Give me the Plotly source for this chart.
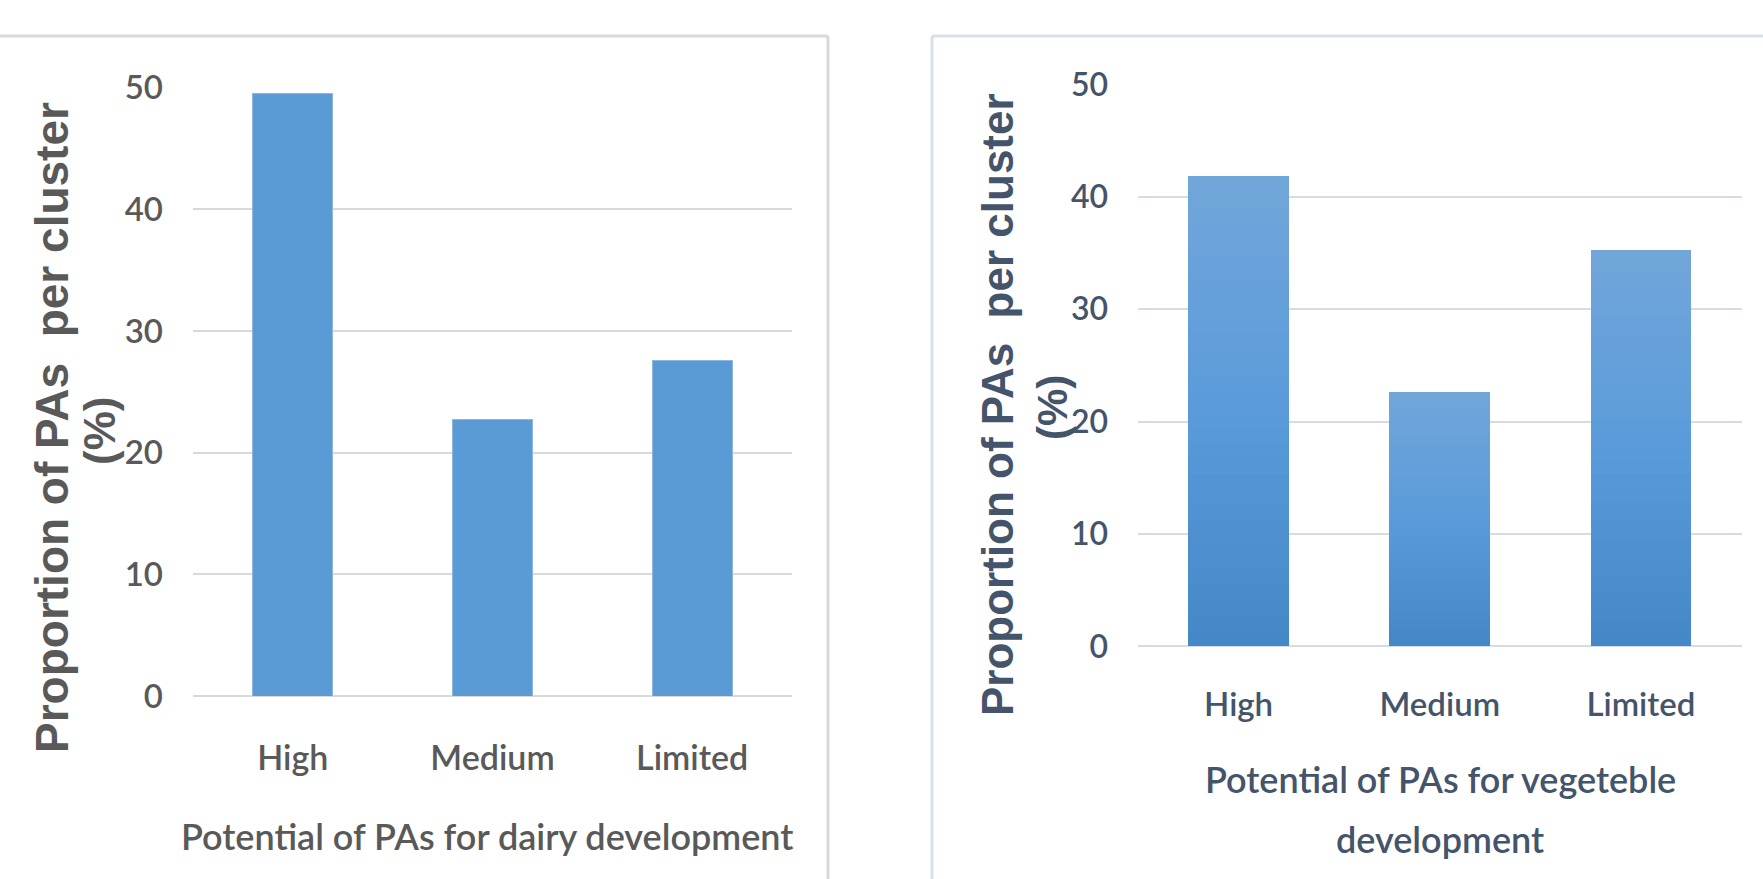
import plotly.graph_objects as go

categories = ["High", "Medium", "Limited"]
dairy_values = [49.5, 22.7, 27.6]
vegetable_values = [41.8, 22.6, 35.3]
y_ticks = [0, 10, 20, 30, 40, 50]

W, H = 1763, 879


def px(x):
    return x / W


def py(y):
    return 1 - y / H


NARROW = "Lato, Roboto, sans-serif"
BOLD = "Liberation Sans, Arial, sans-serif"
GRAY = "#595959"
SLATE = "#44546A"

fig = go.Figure()

# Left chart: solid bars
fig.add_trace(go.Bar(
    x=categories, y=dairy_values, xaxis="x", yaxis="y", width=0.4,
    marker=dict(color="#5B9BD5", line=dict(color="#8DB7E0", width=1)),
    showlegend=False,
))

# Right chart: gradient bars built from stacked slices of each value
N = 30
c_top = (0x72, 0xA6, 0xDA)
c_mid = (0x5A, 0x9B, 0xDA)
c_bot = (0x44, 0x87, 0xC7)


def grad(t):
    if t < 0.5:
        a, b, f = c_bot, c_mid, t / 0.5
    else:
        a, b, f = c_mid, c_top, (t - 0.5) / 0.5
    return "rgb(%d,%d,%d)" % tuple(round(a[i] + (b[i] - a[i]) * f) for i in range(3))


for k in range(N):
    fig.add_trace(go.Bar(
        x=categories, y=[v / N for v in vegetable_values], xaxis="x2", yaxis="y2",
        width=0.5, marker=dict(color=grad((k + 0.5) / N), line=dict(width=0)),
        showlegend=False, hoverinfo="skip" if k < N - 1 else None,
    ))

fig.update_layout(
    template="none",
    width=W, height=H, margin=dict(l=0, r=0, t=0, b=0, autoexpand=False),
    paper_bgcolor="white", plot_bgcolor="white", barmode="stack",
    showlegend=False,
    xaxis=dict(domain=[px(193), px(792)], showgrid=False, showline=False, ticks="",
               automargin=False,
               tickfont=dict(family=NARROW, size=34, color=GRAY, weight=600),
               ticklabelstandoff=39),
    yaxis=dict(domain=[py(696), py(87.7)], range=[0, 50], tickvals=y_ticks,
               showgrid=True, gridcolor="#D9D9D9", gridwidth=1.5,
               zeroline=True, zerolinecolor="#D9D9D9", zerolinewidth=1.5,
               showline=False, ticks="", automargin=False,
               tickfont=dict(family=NARROW, size=33, color=GRAY, weight=600),
               ticklabelstandoff=29),
    xaxis2=dict(domain=[px(1138), px(1741.5)], showgrid=False, showline=False, ticks="",
                automargin=False,
                tickfont=dict(family=NARROW, size=33, color=SLATE, weight=600),
                ticklabelstandoff=36, anchor="y2"),
    yaxis2=dict(domain=[py(646.3), py(84.3)], range=[0, 50], tickvals=y_ticks,
                showgrid=True, gridcolor="#D6DCE5", gridwidth=1.5,
                zeroline=True, zerolinecolor="#D6DCE5", zerolinewidth=1.5,
                showline=False, ticks="", anchor="x2", automargin=False,
                tickfont=dict(family=NARROW, size=32, color=SLATE, weight=600),
                ticklabelstandoff=29),
)

# Chart frames
frame_l = "#D9D9D9"
frame_r = "#D9DFE8"
fig.add_shape(type="line", xref="paper", yref="paper", x0=0, x1=px(828), y0=py(36), y1=py(36),
              line=dict(color=frame_l, width=3))
fig.add_shape(type="line", xref="paper", yref="paper", x0=px(828), x1=px(828), y0=0, y1=py(36),
              line=dict(color=frame_l, width=3))
fig.add_shape(type="line", xref="paper", yref="paper", x0=px(932), x1=1, y0=py(36), y1=py(36),
              line=dict(color=frame_r, width=3))
fig.add_shape(type="line", xref="paper", yref="paper", x0=px(932), x1=px(932), y0=0, y1=py(36),
              line=dict(color=frame_r, width=3))

annotations = [
    # left y title
    dict(text="<b>Proportion of PAs  per cluster</b>", x=px(52), y=py(428), textangle=-90,
         font=dict(family=BOLD, size=46, color=GRAY)),
    dict(text="<b>(%)</b>", x=px(99), y=py(431), textangle=-90,
         font=dict(family=BOLD, size=44, color=GRAY)),
    # left x title
    dict(text="Potential of PAs for dairy development", x=px(487), y=py(836),
         font=dict(family=NARROW, size=36, color=GRAY, weight=600)),
    # right y title
    dict(text="<b>Proportion of PAs  per cluster</b>", x=px(997), y=py(405), textangle=-90,
         font=dict(family=BOLD, size=44, color=SLATE)),
    dict(text="<b>(%)</b>", x=px(1052), y=py(408), textangle=-90,
         font=dict(family=BOLD, size=42, color=SLATE)),
    # right x title
    dict(text="Potential of PAs for vegeteble", x=px(1440), y=py(779),
         font=dict(family=NARROW, size=36, color=SLATE, weight=600)),
    dict(text="development", x=px(1440), y=py(839),
         font=dict(family=NARROW, size=36, color=SLATE, weight=600)),
]
for a in annotations:
    a.update(xref="paper", yref="paper", showarrow=False, xanchor="center", yanchor="middle")
    fig.add_annotation(**a)

fig.write_html("out.html")
